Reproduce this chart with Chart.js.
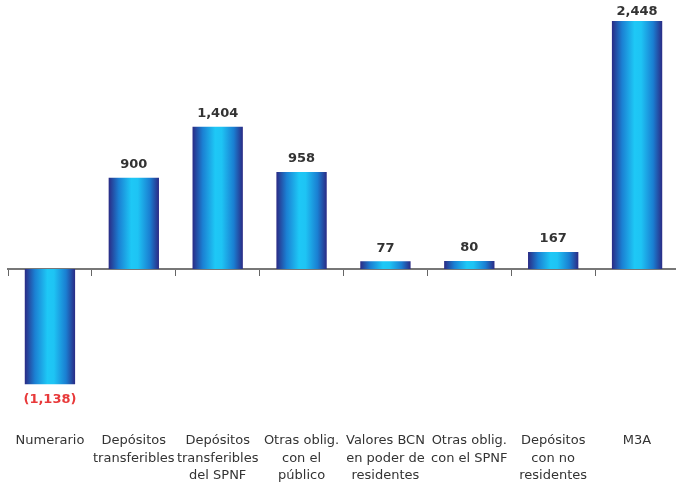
<!DOCTYPE html>
<html>
<head>
<meta charset="utf-8">
<script src="https://cdn.jsdelivr.net/npm/chart.js@4"></script>
<style>
  html, body { margin: 0; padding: 0; background: #fff; overflow: hidden; }
  #wrap { width: 684px; height: 492px; position: relative; }
</style>
</head>
<body>
<div id="wrap"><canvas id="m3a"></canvas></div>
<script>
const CATEGORIES = [
  "Numerario",
  ["Depósitos", "transferibles"],
  ["Depósitos", "transferibles", "del SPNF"],
  ["Otras oblig.", "con el", "público"],
  ["Valores BCN", "en poder de", "residentes"],
  ["Otras oblig.", "con el SPNF"],
  ["Depósitos", "con no", "residentes"],
  "M3A"
];
const VALUES = [-1138, 900, 1404, 958, 77, 80, 167, 2448];

function fmt(v){
  const s = Math.abs(v).toLocaleString("en-US");
  return v < 0 ? `(${s})` : s;
}

function barGradient(c){
  const chart = c.chart;
  const x = chart.scales.x;
  if (!x || !chart.chartArea) return "#1ec4f4";
  const cx = x.getPixelForValue(c.dataIndex);
  const half = 25;
  const g = chart.ctx.createLinearGradient(cx - half, 0, cx + half, 0);
  g.addColorStop(0, "#2a2c86");
  g.addColorStop(0.2, "#1b80d3");
  g.addColorStop(0.45, "#1ec8f6");
  g.addColorStop(0.58, "#1ec4f4");
  g.addColorStop(0.82, "#1a7fd2");
  g.addColorStop(1, "#2a2c86");
  return g;
}

// value labels above/below bars
const valueLabels = {
  id: "valueLabels",
  afterDatasetsDraw(chart){
    const { ctx } = chart;
    const meta = chart.getDatasetMeta(0);
    ctx.save();
    ctx.font = "bold 13px 'DejaVu Sans'";
    ctx.textAlign = "center";
    ctx.textBaseline = "middle";
    meta.data.forEach((bar, i) => {
      const v = VALUES[i];
      if (v < 0) {
        ctx.fillStyle = "#e8393a";
        ctx.fillText(fmt(v), bar.x, bar.y + 15);
      } else {
        ctx.fillStyle = "#333333";
        // top bar has little room, label sits lower (touches the bar)
        const off = bar.y < 30 ? 9 : 13;
        ctx.fillText(fmt(v), bar.x, bar.y - off);
      }
    });
    ctx.restore();
  }
};

new Chart(document.getElementById("m3a"), {
  type: "bar",
  data: {
    labels: CATEGORIES,
    datasets: [{
      data: VALUES,
      backgroundColor: barGradient,
      borderWidth: 0,
      categoryPercentage: 1,
      barPercentage: 0.6,
      xAxisID: "x"
    }]
  },
  options: {
    responsive: true,
    maintainAspectRatio: false,
    animation: false,
    layout: { padding: { left: 8, right: 5, top: 0, bottom: 0 } },
    plugins: { legend: { display: false }, tooltip: { enabled: false } },
    scales: {
      x: {
        type: "category",
        position: { y: 0 },
        offset: true,
        grid: { offset: true, drawOnChartArea: false, tickLength: 6, color: "#666", lineWidth: 1 },
        border: { display: true, color: "#777", width: 2 },
        ticks: { display: false }
      },
      xl: {
        type: "category",
        position: "bottom",
        offset: true,
        grid: { display: false },
        border: { display: false },
        afterFit(scale){ scale.height = 71; },
        ticks: {
          color: "#333",
          font: { family: "'DejaVu Sans'", size: 13, lineHeight: 1.35 },
          padding: 3,
          maxRotation: 0,
          autoSkip: false
        }
      },
      y: {
        display: false,
        min: -1500,
        max: 2655
      }
    }
  },
  plugins: [valueLabels]
});
</script>
</body>
</html>
